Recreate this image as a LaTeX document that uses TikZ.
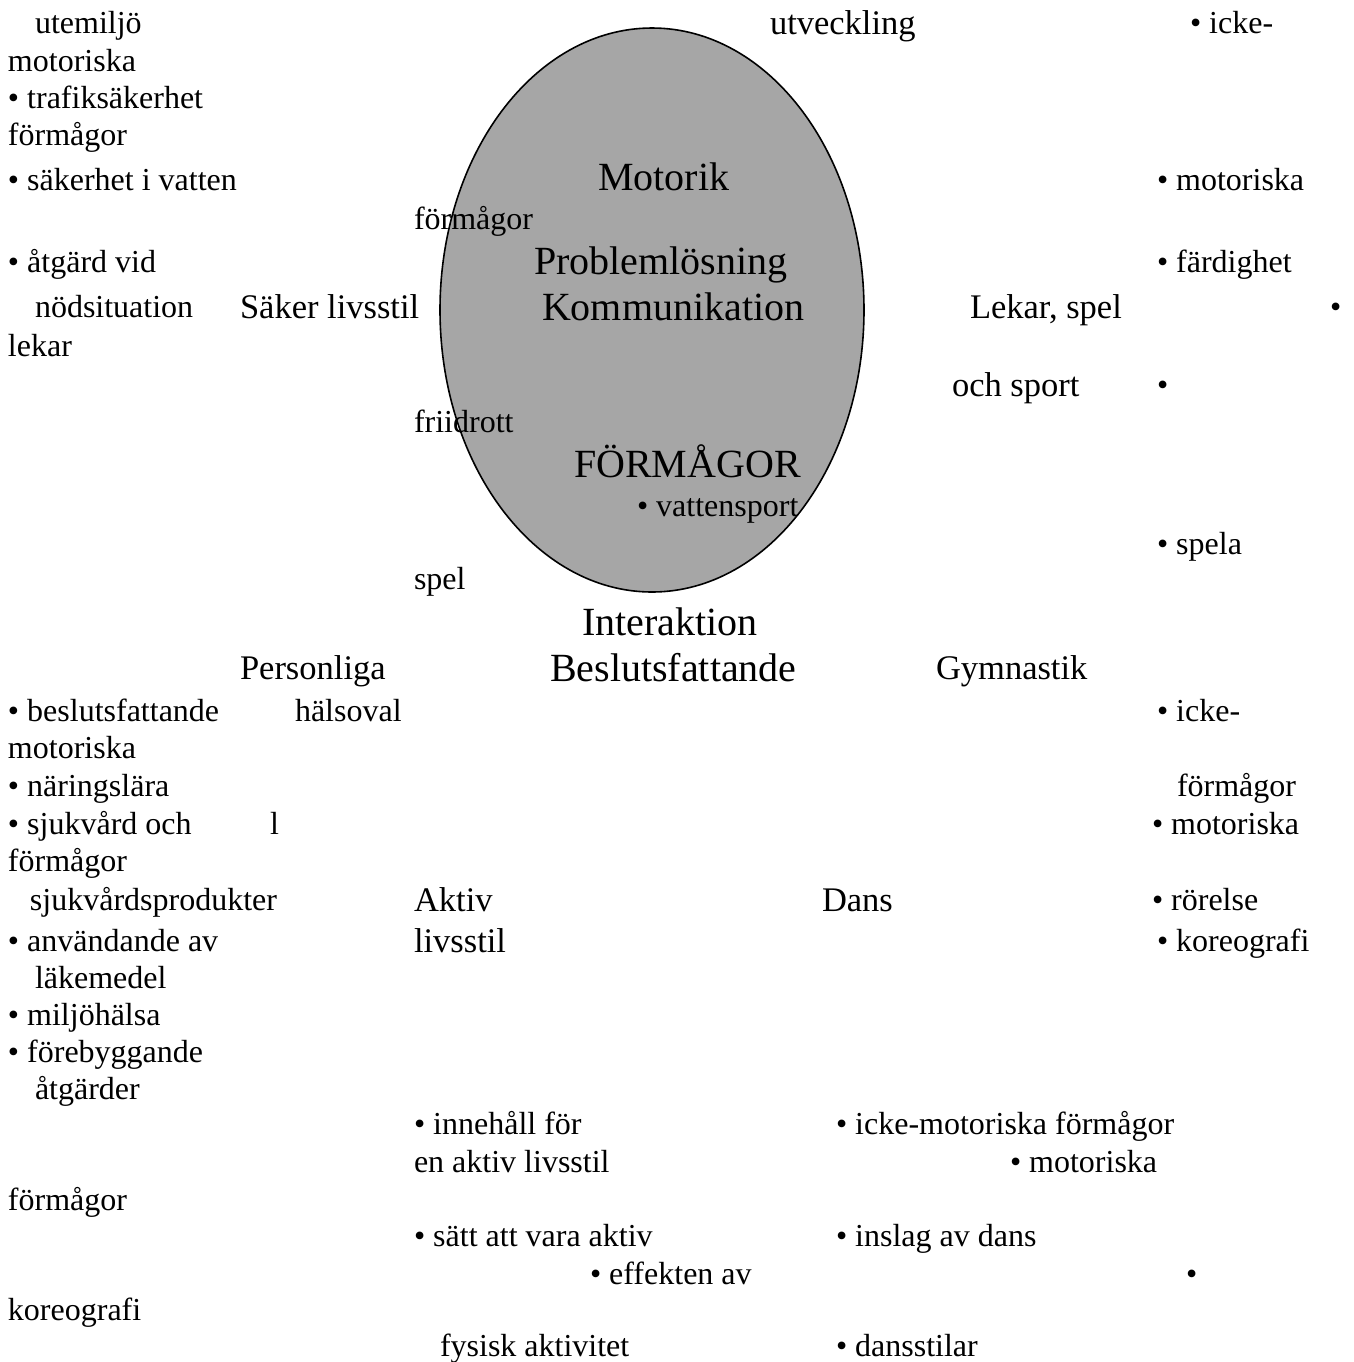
\documentclass[tikz,border=0pt]{standalone}
\usepackage{fontspec}
\setmainfont{Liberation Serif}
\usetikzlibrary{positioning, shapes.geometric}

\begin{document}
\begin{tikzpicture}[x=0.5pt, y=-0.5pt,
  every node/.style={inner sep=0pt, outer sep=0pt, anchor=base west, text=black},
  item/.style={font=\fontsize{16}{18}\selectfont},
  topic/.style={font=\fontsize{17.25}{19}\selectfont},
  core/.style={font=\fontsize{20}{22}\selectfont}]

\useasboundingbox (0,0) rectangle (1354,1362);

% Central ellipse
\node[ellipse, draw=black, line width=0.8pt, fill=black!35, anchor=center,
  minimum width=212pt, minimum height=282pt] (hub) at (652,310) {};

% Inside the ellipse
\node[core] (motorik) at (598,190) {Motorik};
\node[core] (problem) at (534,274) {Problemlösning};
\node[core] (komm) at (542,320) {Kommunikation};
\node[core] (formagor) at (574,477) {FÖRMÅGOR};
\node[item] (vatten) at (637,516) {• vattensport};

% Below the ellipse
\node[core] (interaktion) at (582,635) {Interaktion};
\node[core] (beslut) at (550,681) {Beslutsfattande};

% Top left: Säker livsstil
\node[item] (ute) at (35,33) {utemiljö};
\node[item] (motl1) at (8,71) {motoriska};
\node[item] (trafik) at (8,108) {• trafiksäkerhet};
\node[item] (forml1) at (8,145) {förmågor};
\node[item] (sakvatten) at (8,190) {• säkerhet i vatten};
\node[item] (atgard) at (8,272) {• åtgärd vid};
\node[item] (nod) at (35,317) {nödsituation};
\node[item] (lekar) at (8,356) {lekar};
\node[topic] (saker) at (240,318) {Säker livsstil};
\node[item] (formin) at (414,229) {förmågor};
\node[item] (friidrott) at (414,432) {friidrott};
\node[item] (spel) at (414,589) {spel};

% Top right: Lekar, spel och sport
\node[topic] (utv) at (770,34) {utveckling};
\node[item] (icke1) at (1190,33) {• icke-};
\node[item] (motr1) at (1157,190) {• motoriska};
\node[item] (fard) at (1157,272) {• färdighet};
\node[item] (dot1) at (1330,317) {•};
\node[topic] (lekarspel) at (970,318) {Lekar, spel};
\node[topic] (ochsport) at (952,396) {och sport};
\node[item] (dot2) at (1157,395) {•};
\node[item] (spela) at (1157,554) {• spela};

% Bottom left: Personliga hälsoval
\node[topic] (pers) at (240,679) {Personliga};
\node[item] (halsoval) at (295,721) {hälsoval};
\node[item] (beslutsf) at (8,721) {• beslutsfattande};
\node[item] (motl2) at (8,758) {motoriska};
\node[item] (naring) at (8,796) {• näringslära};
\node[item] (sjuk) at (8,834) {• sjukvård och};
\node[item] (ell) at (270,834) {l};
\node[item] (forml2) at (8,871) {förmågor};
\node[item] (sjukprod) at (30,910) {sjukvårdsprodukter};
\node[item] (anvand) at (8,951) {• användande av};
\node[item] (lake) at (35,988) {läkemedel};
\node[item] (miljo) at (8,1025) {• miljöhälsa};
\node[item] (foreb) at (8,1062) {• förebyggande};
\node[item] (atgarder) at (35,1099) {åtgärder};
\node[item] (forml3) at (8,1210) {förmågor};
\node[item] (koreol) at (8,1320) {koreografi};

% Gymnastik
\node[topic] (gym) at (936,679) {Gymnastik};
\node[item] (icke2) at (1157,721) {• icke-};
\node[item] (formr2) at (1177,796) {förmågor};
\node[item] (motr2) at (1152,834) {• motoriska};
\node[item] (rorelse) at (1152,910) {• rörelse};
\node[item] (koreor) at (1157,951) {• koreografi};

% Aktiv livsstil
\node[topic] (aktiv) at (414,911) {Aktiv};
\node[topic] (livsstil) at (414,952) {livsstil};
\node[item] (innehall) at (414,1134) {• innehåll för};
\node[item] (enaktiv) at (414,1172) {en aktiv livsstil};
\node[item] (satt) at (414,1246) {• sätt att vara aktiv};
\node[item] (effekt) at (590,1284) {• effekten av};
\node[item] (fysisk) at (440,1356) {fysisk aktivitet};

% Dans
\node[topic] (dans) at (822,911) {Dans};
\node[item] (ickemot) at (836,1134) {• icke-motoriska förmågor};
\node[item] (motr3) at (1010,1172) {• motoriska};
\node[item] (inslag) at (836,1246) {• inslag av dans};
\node[item] (dot3) at (1186,1284) {•};
\node[item] (stilar) at (836,1356) {• dansstilar};

\end{tikzpicture}
\end{document}
